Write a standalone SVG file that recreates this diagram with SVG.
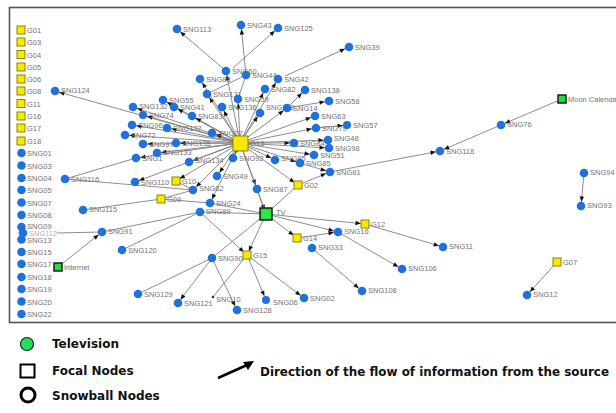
<svg xmlns="http://www.w3.org/2000/svg" width="616" height="413" viewBox="0 0 616 413">
<style>
.l{font-family:"Liberation Sans",Arial,sans-serif;font-size:7.5px;fill:#737373}
.b{fill:#1f72dd}
.y{fill:#f7ea00;stroke:#8c8400;stroke-width:1}
.g{fill:#1fe23c;stroke:#111;stroke-width:1.4}
.e line{stroke:#7f7f7f;stroke-width:0.9}
.e line.a{marker-end:url(#ah)}
.lg{font-family:"DejaVu Sans",Verdana,sans-serif;font-size:12px;font-weight:bold;fill:#111}
</style>
<defs>
<marker id="ah" markerUnits="userSpaceOnUse" markerWidth="12" markerHeight="8" refX="0" refY="0" orient="auto" overflow="visible">
<path d="M-9.5,-2.2 L-4.3,0 L-9.5,2.2 Z" fill="#111"/>
</marker>
</defs>
<rect x="0" y="0" width="616" height="413" fill="#fff"/>
<rect x="9.5" y="7.5" width="620" height="315" fill="none" stroke="#555" stroke-width="1.6"/>
<g id="edges" class="e">
<line class="a" x1="240" y1="143" x2="55" y2="91"/>
<line class="a" x1="240" y1="143" x2="133" y2="107"/>
<line class="a" x1="240" y1="143" x2="163" y2="100"/>
<line class="a" x1="240" y1="143" x2="174" y2="107"/>
<line class="a" x1="240" y1="143" x2="143" y2="115"/>
<line class="a" x1="240" y1="143" x2="132" y2="125"/>
<line class="a" x1="240" y1="143" x2="167" y2="128"/>
<line class="a" x1="240" y1="143" x2="125" y2="135"/>
<line class="a" x1="240" y1="143" x2="143" y2="144"/>
<line class="a" x1="240" y1="143" x2="176" y2="143"/>
<line class="a" x1="240" y1="143" x2="157" y2="153"/>
<line class="a" x1="240" y1="143" x2="136" y2="158"/>
<line class="a" x1="240" y1="143" x2="192" y2="116"/>
<line class="a" x1="240" y1="143" x2="212" y2="133"/>
<line class="a" x1="240" y1="143" x2="222" y2="107"/>
<line class="a" x1="240" y1="143" x2="238" y2="99"/>
<line class="a" x1="240" y1="143" x2="207" y2="94"/>
<line class="a" x1="240" y1="143" x2="200" y2="79"/>
<line class="a" x1="240" y1="143" x2="226" y2="71"/>
<line class="a" x1="240" y1="143" x2="260" y2="113"/>
<line class="a" x1="240" y1="143" x2="265" y2="89"/>
<line class="a" x1="240" y1="143" x2="278" y2="79"/>
<line class="a" x1="240" y1="143" x2="287" y2="108"/>
<line class="a" x1="240" y1="143" x2="315" y2="116"/>
<line class="a" x1="240" y1="143" x2="316" y2="128"/>
<line class="a" x1="240" y1="143" x2="294" y2="143"/>
<line class="a" x1="240" y1="143" x2="328" y2="140"/>
<line class="a" x1="240" y1="143" x2="329" y2="148"/>
<line class="a" x1="240" y1="143" x2="314" y2="155"/>
<line class="a" x1="240" y1="143" x2="300" y2="163"/>
<line class="a" x1="240" y1="143" x2="275" y2="160"/>
<line class="a" x1="240" y1="143" x2="233" y2="158"/>
<line class="a" x1="240" y1="143" x2="189" y2="162"/>
<line class="a" x1="240" y1="143" x2="217" y2="176"/>
<line class="a" x1="240" y1="143" x2="257" y2="189"/>
<line class="a" x1="240" y1="143" x2="298" y2="185"/>
<line class="a" x1="240" y1="143" x2="176" y2="181"/>
<line class="a" x1="240" y1="143" x2="193" y2="190"/>
<line class="a" x1="240" y1="143" x2="210" y2="203"/>
<line class="a" x1="240" y1="143" x2="266" y2="214"/>
<line class="a" x1="240" y1="143" x2="135" y2="182"/>
<line class="a" x1="226" y1="71" x2="177" y2="29"/>
<line class="a" x1="233" y1="68" x2="278" y2="28"/>
<line class="a" x1="246" y1="75" x2="241" y2="25"/>
<line class="a" x1="285" y1="76" x2="349" y2="47"/>
<line x1="207" y1="94" x2="246" y2="75"/>
<line x1="238" y1="99" x2="246" y2="75"/>
<line class="a" x1="287" y1="108" x2="329" y2="101"/>
<line class="a" x1="287" y1="108" x2="305" y2="90"/>
<line class="a" x1="316" y1="128" x2="347" y2="125"/>
<line x1="65" y1="179" x2="136" y2="158"/>
<line x1="65" y1="179" x2="193" y2="190"/>
<line x1="83" y1="210" x2="161" y2="199"/>
<line class="a" x1="58" y1="267" x2="102" y2="232"/>
<line x1="102" y1="232" x2="57" y2="233"/>
<line x1="102" y1="232" x2="200" y2="212"/>
<line x1="122" y1="250" x2="200" y2="212"/>
<line x1="138" y1="294" x2="212" y2="258"/>
<line class="a" x1="212" y1="258" x2="178" y2="303"/>
<line class="a" x1="212" y1="258" x2="237" y2="310"/>
<line x1="247" y1="255" x2="213" y2="297"/>
<line class="a" x1="247" y1="255" x2="266" y2="300"/>
<line class="a" x1="247" y1="255" x2="304" y2="298"/>
<line class="a" x1="266" y1="214" x2="247" y2="255"/>
<line class="a" x1="200" y1="212" x2="247" y2="255"/>
<line x1="266" y1="214" x2="212" y2="258"/>
<line class="a" x1="266" y1="214" x2="297" y2="238"/>
<line class="a" x1="266" y1="214" x2="365" y2="224"/>
<line class="a" x1="266" y1="214" x2="338" y2="232"/>
<line class="a" x1="297" y1="238" x2="338" y2="232"/>
<line class="a" x1="338" y1="232" x2="402" y2="269"/>
<line class="a" x1="312" y1="248" x2="362" y2="291"/>
<line class="a" x1="365" y1="224" x2="443" y2="247"/>
<line class="a" x1="557" y1="262" x2="527" y2="295"/>
<line class="a" x1="584" y1="173" x2="581" y2="206"/>
<line class="a" x1="330" y1="172" x2="440" y2="151"/>
<line class="a" x1="562" y1="99" x2="501" y2="125"/>
<line class="a" x1="501" y1="125" x2="440" y2="151"/>
<line class="a" x1="298" y1="185" x2="330" y2="172"/>
<line class="a" x1="300" y1="163" x2="330" y2="172"/>
<line x1="200" y1="212" x2="266" y2="214"/>
<line x1="210" y1="203" x2="266" y2="214"/>
<line x1="257" y1="189" x2="266" y2="214"/>
<line x1="298" y1="185" x2="266" y2="214"/>
<line x1="176" y1="181" x2="193" y2="190"/>
<line x1="161" y1="199" x2="210" y2="203"/>
<line x1="161" y1="199" x2="193" y2="190"/>
</g>
<g id="G01"><rect x="17" y="26" width="8" height="8" class="y"/><text x="27" y="33" class="l">G01</text></g>
<g id="G03"><rect x="17" y="38" width="8" height="8" class="y"/><text x="27" y="45" class="l">G03</text></g>
<g id="G04"><rect x="17" y="50.5" width="8" height="8" class="y"/><text x="27" y="57.5" class="l">G04</text></g>
<g id="G05"><rect x="17" y="63" width="8" height="8" class="y"/><text x="27" y="70" class="l">G05</text></g>
<g id="G06"><rect x="17" y="75" width="8" height="8" class="y"/><text x="27" y="82" class="l">G06</text></g>
<g id="G08"><rect x="17" y="87" width="8" height="8" class="y"/><text x="27" y="94" class="l">G08</text></g>
<g id="G11"><rect x="17" y="99.5" width="8" height="8" class="y"/><text x="27" y="106.5" class="l">G11</text></g>
<g id="G16"><rect x="17" y="112" width="8" height="8" class="y"/><text x="27" y="119" class="l">G16</text></g>
<g id="G17"><rect x="17" y="124" width="8" height="8" class="y"/><text x="27" y="131" class="l">G17</text></g>
<g id="G18"><rect x="17" y="137" width="8" height="8" class="y"/><text x="27" y="144" class="l">G18</text></g>
<g id="SNG01"><circle cx="21.5" cy="153" r="4.3" class="b"/><text x="27" y="156" class="l">SNG01</text></g>
<g id="SNG03"><circle cx="21.5" cy="165.5" r="4.3" class="b"/><text x="27" y="168.5" class="l">SNG03</text></g>
<g id="SNG04"><circle cx="21.5" cy="178" r="4.3" class="b"/><text x="27" y="181" class="l">SNG04</text></g>
<g id="SNG05"><circle cx="21.5" cy="190" r="4.3" class="b"/><text x="27" y="193" class="l">SNG05</text></g>
<g id="SNG07"><circle cx="21.5" cy="202.5" r="4.3" class="b"/><text x="27" y="205.5" class="l">SNG07</text></g>
<g id="SNG08"><circle cx="21.5" cy="215" r="4.3" class="b"/><text x="27" y="218" class="l">SNG08</text></g>
<g id="SNG09"><circle cx="21.5" cy="227" r="4.3" class="b"/><text x="27" y="229" class="l">SNG09</text></g>
<g id="SNG112"><circle cx="23" cy="233" r="4.3" class="b"/><text x="29" y="236" class="l" opacity="0.5">SNG112</text></g>
<g id="SNG13"><circle cx="21.5" cy="239.5" r="4.3" class="b"/><text x="27" y="242.5" class="l">SNG13</text></g>
<g id="SNG15"><circle cx="21.5" cy="252" r="4.3" class="b"/><text x="27" y="255" class="l">SNG15</text></g>
<g id="SNG17"><circle cx="21.5" cy="264" r="4.3" class="b"/><text x="27" y="267" class="l">SNG17</text></g>
<g id="SNG18"><circle cx="21.5" cy="277" r="4.3" class="b"/><text x="27" y="280" class="l">SNG18</text></g>
<g id="SNG19"><circle cx="21.5" cy="289" r="4.3" class="b"/><text x="27" y="292" class="l">SNG19</text></g>
<g id="SNG20"><circle cx="21.5" cy="301.5" r="4.3" class="b"/><text x="27" y="304.5" class="l">SNG20</text></g>
<g id="SNG22"><circle cx="21.5" cy="314" r="4.3" class="b"/><text x="27" y="317" class="l">SNG22</text></g>
<g id="SNG113"><circle cx="177" cy="29" r="4.3" class="b"/><text x="183" y="32" class="l">SNG113</text></g>
<g id="SNG43"><circle cx="241" cy="25" r="4.3" class="b"/><text x="247" y="28" class="l">SNG43</text></g>
<g id="SNG125"><circle cx="278" cy="28" r="4.3" class="b"/><text x="284" y="31" class="l">SNG125</text></g>
<g id="SNG39"><circle cx="349" cy="47" r="4.3" class="b"/><text x="355" y="50" class="l">SNG39</text></g>
<g id="SNG60"><circle cx="226" cy="71" r="4.3" class="b"/><text x="232" y="74" class="l">SNG60</text></g>
<g id="SNG44"><circle cx="246" cy="75" r="4.3" class="b"/><text x="252" y="78" class="l">SNG44</text></g>
<g id="SNG88"><circle cx="200" cy="79" r="4.3" class="b"/><text x="206" y="82" class="l">SNG88</text></g>
<g id="SNG42"><circle cx="278" cy="79" r="4.3" class="b"/><text x="284" y="82" class="l">SNG42</text></g>
<g id="SNG131"><circle cx="207" cy="94" r="4.3" class="b"/><text x="213" y="97" class="l">SNG131</text></g>
<g id="SNG82"><circle cx="265" cy="89" r="4.3" class="b"/><text x="271" y="92" class="l">SNG82</text></g>
<g id="SNG138"><circle cx="305" cy="90" r="4.3" class="b"/><text x="311" y="93" class="l">SNG138</text></g>
<g id="SNG59"><circle cx="238" cy="99" r="4.3" class="b"/><text x="244" y="102" class="l">SNG59</text></g>
<g id="SNG58"><circle cx="329" cy="101" r="4.3" class="b"/><text x="335" y="104" class="l">SNG58</text></g>
<g id="SNG124"><circle cx="55" cy="91" r="4.3" class="b"/><text x="61" y="93" class="l">SNG124</text></g>
<g id="SNG132"><circle cx="133" cy="107" r="4.3" class="b"/><text x="139" y="109" class="l">SNG132</text></g>
<g id="SNG55"><circle cx="163" cy="100" r="4.3" class="b"/><text x="169" y="103" class="l">SNG55</text></g>
<g id="SNG41"><circle cx="174" cy="107" r="4.3" class="b"/><text x="180" y="110" class="l">SNG41</text></g>
<g id="SNG136"><circle cx="222" cy="107" r="4.3" class="b"/><text x="228" y="110" class="l">SNG136</text></g>
<g id="SNG130"><circle cx="260" cy="113" r="4.3" class="b"/><text x="266" y="110" class="l">SNG130</text></g>
<g id="SNG14"><circle cx="287" cy="108" r="4.3" class="b"/><text x="293" y="111" class="l">SNG14</text></g>
<g id="SNG74"><circle cx="143" cy="115" r="4" class="b"/><text x="149" y="118" class="l">SNG74</text></g>
<g id="SNG83"><circle cx="192" cy="116" r="4.3" class="b"/><text x="198" y="119" class="l">SNG83</text></g>
<g id="SNG96"><circle cx="132" cy="125" r="4.3" class="b"/><text x="138" y="128" class="l">SNG96</text></g>
<g id="SNG137"><circle cx="167" cy="128" r="4.3" class="b"/><text x="173" y="131" class="l">SNG137</text></g>
<g id="SNG72"><circle cx="125" cy="135" r="4.3" class="b"/><text x="131" y="138" class="l">SNG72</text></g>
<g id="SNG27"><circle cx="212" cy="133" r="4.3" class="b"/><text x="218" y="136" class="l">SNG27</text></g>
<g id="SNG63"><circle cx="315" cy="116" r="4.3" class="b"/><text x="321" y="119" class="l">SNG63</text></g>
<g id="SNG79"><circle cx="316" cy="128" r="4.3" class="b"/><text x="322" y="131" class="l">SNG79</text></g>
<g id="SNG57"><circle cx="347" cy="125" r="4" class="b"/><text x="353" y="128" class="l">SNG57</text></g>
<g id="SNG97"><circle cx="143" cy="144" r="4.3" class="b"/><text x="149" y="147" class="l">SNG97</text></g>
<g id="SNG135"><circle cx="176" cy="143" r="4.3" class="b"/><text x="182" y="146" class="l">SNG135</text></g>
<g id="SNG84"><circle cx="294" cy="143" r="4.3" class="b"/><text x="300" y="146" class="l">SNG84</text></g>
<g id="SNG48"><circle cx="328" cy="140" r="4.3" class="b"/><text x="334" y="141" class="l">SNG48</text></g>
<g id="SNG98"><circle cx="329" cy="148" r="4.3" class="b"/><text x="335" y="151" class="l">SNG98</text></g>
<g id="SNG51"><circle cx="314" cy="155" r="4.3" class="b"/><text x="320" y="158" class="l">SNG51</text></g>
<g id="SNG133"><circle cx="157" cy="153" r="4.3" class="b"/><text x="163" y="155" class="l">SNG133</text></g>
<g id="SNG1"><circle cx="136" cy="158" r="4.3" class="b"/><text x="142" y="161" class="l">SNG1</text></g>
<g id="SNG134"><circle cx="189" cy="162" r="4.3" class="b"/><text x="195" y="163" class="l">SNG134</text></g>
<g id="SNG92"><circle cx="233" cy="158" r="4.3" class="b"/><text x="239" y="161" class="l">SNG92</text></g>
<g id="SNG95"><circle cx="275" cy="160" r="4.3" class="b"/><text x="281" y="161" class="l">SNG95</text></g>
<g id="SNG85"><circle cx="300" cy="163" r="4.3" class="b"/><text x="306" y="166" class="l">SNG85</text></g>
<g id="SNG81"><circle cx="330" cy="172" r="4.3" class="b"/><text x="336" y="175" class="l">SNG81</text></g>
<g id="SNG49"><circle cx="217" cy="176" r="4.3" class="b"/><text x="223" y="179" class="l">SNG49</text></g>
<g id="SNG110"><circle cx="135" cy="182" r="4.3" class="b"/><text x="141" y="185" class="l">SNG110</text></g>
<g id="SNG62"><circle cx="193" cy="190" r="4.3" class="b"/><text x="199" y="191" class="l">SNG62</text></g>
<g id="SNG87"><circle cx="257" cy="189" r="4.3" class="b"/><text x="263" y="192" class="l">SNG87</text></g>
<g id="SNG24"><circle cx="210" cy="203" r="4.3" class="b"/><text x="216" y="206" class="l">SNG24</text></g>
<g id="SNG89"><circle cx="200" cy="212" r="4.3" class="b"/><text x="206" y="214" class="l">SNG89</text></g>
<g id="SNG116"><circle cx="65" cy="179" r="4.3" class="b"/><text x="71" y="182" class="l">SNG116</text></g>
<g id="SNG115"><circle cx="83" cy="210" r="4.3" class="b"/><text x="89" y="212" class="l">SNG115</text></g>
<g id="SNG91"><circle cx="102" cy="232" r="4.3" class="b"/><text x="108" y="234" class="l">SNG91</text></g>
<g id="SNG120"><circle cx="122" cy="250" r="4.3" class="b"/><text x="128" y="253" class="l">SNG120</text></g>
<g id="SNG129"><circle cx="138" cy="294" r="4.3" class="b"/><text x="144" y="297" class="l">SNG129</text></g>
<g id="SNG90"><circle cx="212" cy="258" r="4.3" class="b"/><text x="218" y="261" class="l">SNG90</text></g>
<g id="SNG121"><circle cx="178" cy="303" r="4.3" class="b"/><text x="184" y="306" class="l">SNG121</text></g>
<g id="SNG10"><circle cx="213" cy="297" r="1.3" fill="#333"/><text x="216" y="302" class="l">SNG10</text></g>
<g id="SNG128"><circle cx="237" cy="310" r="4.3" class="b"/><text x="243" y="313" class="l">SNG128</text></g>
<g id="SNG06"><circle cx="266" cy="300" r="4" class="b"/><text x="273" y="305" class="l">SNG06</text></g>
<g id="SNG02"><circle cx="304" cy="298" r="4.3" class="b"/><text x="310" y="301" class="l">SNG02</text></g>
<g id="SNG108"><circle cx="362" cy="291" r="4.3" class="b"/><text x="368" y="293" class="l">SNG108</text></g>
<g id="SNG106"><circle cx="402" cy="269" r="4.3" class="b"/><text x="408" y="271" class="l">SNG106</text></g>
<g id="SNG11"><circle cx="443" cy="247" r="4.3" class="b"/><text x="449" y="249" class="l">SNG11</text></g>
<g id="SNG16"><circle cx="338" cy="232" r="4.3" class="b"/><text x="344" y="234" class="l">SNG16</text></g>
<g id="SNG33"><circle cx="312" cy="248" r="4.3" class="b"/><text x="318" y="250" class="l">SNG33</text></g>
<g id="SNG12"><circle cx="527" cy="295" r="4.3" class="b"/><text x="533" y="297" class="l">SNG12</text></g>
<g id="SNG118"><circle cx="440" cy="151" r="4.3" class="b"/><text x="446" y="154" class="l">SNG118</text></g>
<g id="SNG76"><circle cx="501" cy="125" r="4.3" class="b"/><text x="507" y="127" class="l">SNG76</text></g>
<g id="SNG94"><circle cx="584" cy="173" r="4.3" class="b"/><text x="590" y="175" class="l">SNG94</text></g>
<g id="SNG93"><circle cx="581" cy="206" r="4.3" class="b"/><text x="587" y="208" class="l">SNG93</text></g>
<g id="G13"><rect x="233" y="136" width="15" height="15" class="y" stroke="#111"/><text x="250" y="146" class="l">G13</text></g>
<g id="G10"><rect x="172" y="177" width="8" height="8" class="y"/><text x="182" y="184" class="l">G10</text></g>
<g id="G09"><rect x="157" y="195" width="8" height="8" class="y"/><text x="167" y="202" class="l">G09</text></g>
<g id="G02"><rect x="294" y="181" width="8" height="8" class="y"/><text x="304" y="188" class="l">G02</text></g>
<g id="G15"><rect x="243" y="251" width="8" height="8" class="y"/><text x="253" y="258" class="l">G15</text></g>
<g id="G14"><rect x="293" y="234" width="8" height="8" class="y"/><text x="303" y="241" class="l">G14</text></g>
<g id="G12"><rect x="361" y="220" width="8" height="8" class="y"/><text x="371" y="227" class="l">G12</text></g>
<g id="G07"><rect x="553" y="258" width="8" height="8" class="y"/><text x="563" y="265" class="l">G07</text></g>
<g id="TV"><rect x="260" y="208" width="12" height="12" class="g"/><circle cx="266" cy="214" r="4.5" fill="#2ee84a"/><text x="276" y="215" class="l">TV</text></g>
<g id="Internet"><rect x="54" y="263" width="8" height="8" class="g"/><text x="64" y="270" class="l">Internet</text></g>
<g id="MoonCalendar"><rect x="558" y="95" width="8" height="8" class="g"/><text x="568" y="102" class="l">Moon Calendar</text></g>
<g id="legend">
<circle cx="27" cy="344" r="6.5" fill="#22e05a" stroke="#222" stroke-width="1.2"/>
<text x="52" y="348" class="lg">Television</text>
<rect x="20.5" y="364.5" width="14" height="13" fill="#fff" stroke="#000" stroke-width="2"/>
<text x="52" y="375" class="lg">Focal Nodes</text>
<circle cx="28" cy="395" r="7" fill="#fff" stroke="#000" stroke-width="3"/>
<text x="52" y="400" class="lg">Snowball Nodes</text>
<line x1="218" y1="378" x2="247" y2="365" stroke="#000" stroke-width="2.5"/>
<path d="M254,361 L243,362 L248,370 Z" fill="#000"/>
<text x="260" y="376" class="lg" textLength="349" lengthAdjust="spacingAndGlyphs">Direction of the flow of information from the source</text>
</g>
</svg>
